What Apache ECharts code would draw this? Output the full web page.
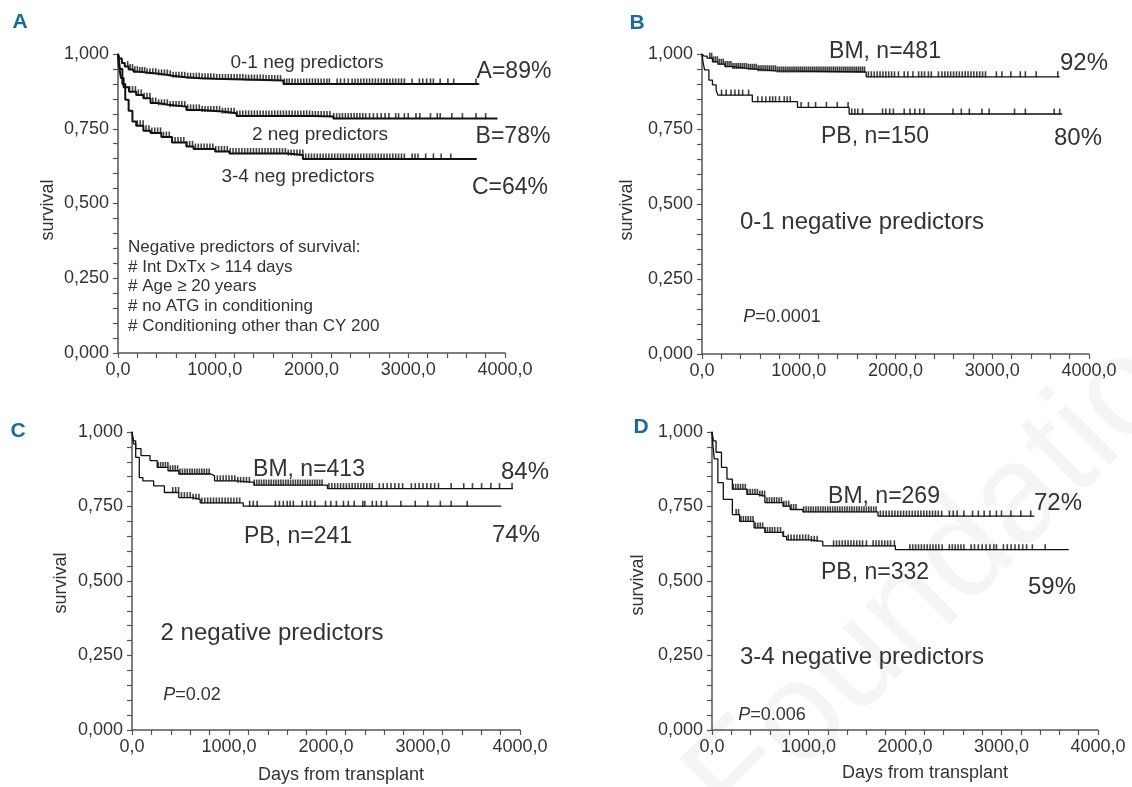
<!DOCTYPE html>
<html><head><meta charset="utf-8">
<script src="https://cdn.jsdelivr.net/npm/echarts@6/dist/echarts.min.js"></script>
<style>html,body{margin:0;padding:0;background:#fff}#c{width:1132px;height:787px}</style>
</head><body><div id="c"></div>
<script>
// ---- tick labels ----
const xTickValues = [0, 1000, 2000, 3000, 4000];
const xTickLabels = ['0,0', '1000,0', '2000,0', '3000,0', '4000,0'];
const yTickValues = [0, 0.25, 0.5, 0.75, 1];
const yTickLabels = ['0,000', '0,250', '0,500', '0,750', '1,000'];

// ---- Panel A: all patients by number of negative predictors ----
const A1_days = [0, 15, 40, 70, 110, 160, 220, 300, 420, 520, 560, 700, 850, 1000, 1300, 1520, 1710, 3726];
const A1_surv = [1, 0.985, 0.97, 0.958, 0.948, 0.941, 0.938, 0.934, 0.93, 0.927, 0.922, 0.919, 0.917, 0.915, 0.913, 0.911, 0.9, 0.897];
const A1_cens = [100, 125, 150, 175, 200, 225, 250, 275, 300, 330, 360, 390, 420, 450, 480, 510, 540, 570, 600, 630, 660, 690, 720, 750, 780, 810, 840, 870, 900, 930, 960, 990, 1020, 1050, 1080, 1110, 1140, 1170, 1200, 1230, 1260, 1290, 1320, 1350, 1380, 1410, 1440, 1470, 1500, 1530, 1560, 1590, 1620, 1650, 1680, 1720, 1745, 1770, 1800, 1830, 1860, 1890, 1920, 1950, 1980, 2010, 2040, 2070, 2100, 2130, 2160, 2185, 2265, 2300, 2340, 2380, 2420, 2450, 2480, 2510, 2540, 2570, 2600, 2630, 2660, 2690, 2720, 2750, 2780, 2810, 2840, 2870, 2900, 2930, 2960, 3040, 3115, 3150, 3190, 3230, 3260, 3330, 3410, 3470, 3700];
const A2_days = [0, 10, 30, 58, 114, 188, 262, 336, 410, 521, 707, 855, 1077, 1226, 2003, 2226, 3922];
const A2_surv = [1, 0.96, 0.92, 0.889, 0.874, 0.863, 0.852, 0.836, 0.83, 0.824, 0.813, 0.808, 0.802, 0.793, 0.791, 0.784, 0.784];
const A2_cens = [120, 150, 180, 210, 240, 270, 300, 330, 360, 390, 420, 450, 480, 510, 540, 570, 600, 630, 660, 690, 720, 750, 780, 810, 840, 870, 900, 930, 960, 990, 1020, 1050, 1080, 1110, 1140, 1170, 1200, 1230, 1260, 1290, 1320, 1350, 1380, 1410, 1440, 1470, 1500, 1530, 1560, 1590, 1620, 1650, 1680, 1710, 1740, 1770, 1800, 1830, 1860, 1890, 1920, 1950, 1980, 2010, 2040, 2070, 2100, 2130, 2160, 2190, 2230, 2260, 2290, 2320, 2350, 2380, 2410, 2440, 2470, 2500, 2530, 2560, 2600, 2640, 2680, 2720, 2760, 2800, 2870, 2900, 2960, 3000, 3080, 3120, 3230, 3300, 3330, 3450, 3560, 3700, 3800];
const A3_days = [0, 20, 45, 75, 110, 149, 188, 262, 336, 448, 559, 707, 781, 1004, 1152, 1745, 1911, 3708];
const A3_surv = [1, 0.95, 0.9, 0.847, 0.81, 0.774, 0.76, 0.743, 0.736, 0.722, 0.704, 0.691, 0.682, 0.674, 0.667, 0.662, 0.649, 0.649];
const A3_cens = [200, 230, 260, 290, 320, 350, 380, 410, 440, 470, 500, 530, 560, 590, 620, 650, 680, 710, 740, 770, 800, 830, 860, 890, 920, 950, 980, 1010, 1040, 1070, 1100, 1130, 1160, 1190, 1220, 1250, 1280, 1310, 1340, 1370, 1400, 1430, 1460, 1490, 1520, 1550, 1580, 1610, 1640, 1670, 1700, 1730, 1760, 1790, 1820, 1850, 1880, 1910, 1940, 1970, 2000, 2030, 2060, 2090, 2120, 2150, 2180, 2210, 2240, 2270, 2300, 2330, 2360, 2390, 2420, 2450, 2480, 2510, 2540, 2570, 2600, 2630, 2660, 2690, 2720, 2750, 2780, 2810, 2840, 2870, 2900, 2930, 2960, 3040, 3070, 3100, 3180, 3260, 3340, 3440];

// ---- Panel B: 0-1 negative predictors ----
const B_BM_days = [0, 20, 52, 108, 164, 239, 314, 463, 576, 763, 1697, 3697];
const B_BM_surv = [1, 0.993, 0.986, 0.974, 0.966, 0.958, 0.952, 0.949, 0.944, 0.94, 0.924, 0.924];
const B_BM_cens = [80, 100, 120, 140, 160, 180, 200, 220, 240, 260, 280, 300, 320, 340, 360, 380, 400, 420, 440, 460, 480, 500, 520, 540, 560, 580, 600, 620, 640, 660, 680, 700, 720, 740, 760, 780, 800, 820, 840, 860, 880, 900, 920, 940, 960, 980, 1000, 1020, 1040, 1060, 1080, 1100, 1120, 1140, 1160, 1180, 1200, 1220, 1240, 1260, 1280, 1300, 1320, 1340, 1360, 1380, 1400, 1420, 1440, 1460, 1480, 1500, 1520, 1540, 1560, 1580, 1600, 1620, 1640, 1660, 1680, 1720, 1750, 1780, 1810, 1840, 1870, 1900, 1930, 1960, 1990, 2030, 2090, 2127, 2180, 2239, 2270, 2300, 2340, 2370, 2444, 2480, 2510, 2540, 2570, 2600, 2630, 2660, 2690, 2720, 2750, 2780, 2810, 2840, 2870, 2900, 2930, 3043, 3100, 3192, 3290, 3342, 3454, 3678];
const B_PB_days = [0, 10, 26, 71, 108, 146, 164, 520, 987, 1521, 3723];
const B_PB_surv = [1, 0.975, 0.947, 0.913, 0.897, 0.88, 0.863, 0.841, 0.822, 0.8, 0.8];
const B_PB_cens = [202, 250, 300, 340, 380, 420, 482, 576, 620, 660, 700, 730, 760, 800, 850, 880, 912, 1024, 1100, 1174, 1286, 1398, 1510, 1548, 1580, 1610, 1660, 1866, 1900, 1940, 1978, 2090, 2150, 2200, 2250, 2295, 2594, 2680, 2763, 2893, 2968, 3230, 3342, 3640, 3697];

// ---- Panel C: 2 negative predictors ----
const C_BM_days = [0, 15, 38, 93, 186, 260, 371, 482, 814, 851, 1073, 1258, 2015, 3926];
const C_BM_surv = [1, 0.97, 0.944, 0.921, 0.904, 0.881, 0.87, 0.859, 0.853, 0.836, 0.831, 0.822, 0.81, 0.81];
const C_BM_cens = [270, 295, 320, 345, 370, 395, 420, 445, 470, 495, 520, 545, 570, 595, 620, 645, 670, 695, 720, 745, 770, 795, 880, 910, 940, 970, 1000, 1030, 1060, 1090, 1120, 1150, 1180, 1210, 1260, 1285, 1310, 1335, 1360, 1385, 1410, 1435, 1460, 1485, 1510, 1535, 1560, 1585, 1610, 1635, 1660, 1685, 1710, 1735, 1760, 1785, 1810, 1835, 1860, 1885, 1910, 1935, 1960, 2030, 2060, 2090, 2120, 2150, 2180, 2210, 2240, 2270, 2300, 2330, 2360, 2390, 2420, 2450, 2477, 2550, 2590, 2630, 2670, 2710, 2750, 2790, 2880, 2920, 2960, 3000, 3040, 3080, 3120, 3160, 3290, 3420, 3510, 3604, 3700, 3789, 3918];
const C_PB_days = [0, 15, 38, 75, 112, 223, 334, 482, 629, 703, 1147, 3807];
const C_PB_surv = [1, 0.96, 0.915, 0.847, 0.836, 0.819, 0.797, 0.78, 0.774, 0.762, 0.751, 0.751];
const C_PB_cens = [420, 450, 480, 510, 540, 570, 600, 630, 660, 690, 720, 750, 780, 810, 840, 870, 900, 930, 960, 990, 1020, 1050, 1080, 1110, 1213, 1250, 1290, 1478, 1520, 1560, 1600, 1630, 1663, 1755, 1800, 1840, 1885, 1995, 2050, 2107, 2180, 2230, 2291, 2380, 2400, 2477, 2520, 2570, 2625, 2772, 2920, 3049, 3179, 3290, 3456];

// ---- Panel D: 3-4 negative predictors ----
const D_BM_days = [0, 15, 42, 98, 155, 211, 361, 473, 548, 736, 810, 942, 1720, 3341];
const D_BM_surv = [1, 0.97, 0.932, 0.881, 0.842, 0.808, 0.791, 0.785, 0.763, 0.751, 0.74, 0.732, 0.718, 0.718];
const D_BM_cens = [220, 245, 270, 295, 320, 345, 370, 395, 420, 445, 470, 495, 520, 545, 570, 595, 620, 645, 670, 695, 720, 745, 770, 795, 820, 845, 870, 950, 975, 1000, 1025, 1050, 1075, 1100, 1125, 1150, 1175, 1200, 1225, 1250, 1275, 1300, 1325, 1350, 1375, 1400, 1425, 1450, 1475, 1500, 1525, 1550, 1575, 1600, 1625, 1650, 1675, 1700, 1745, 1775, 1805, 1835, 1865, 1895, 1925, 1955, 1985, 2015, 2045, 2075, 2105, 2135, 2165, 2195, 2225, 2255, 2285, 2315, 2345, 2380, 2460, 2500, 2540, 2610, 2700, 2760, 2820, 2880, 2947, 3000, 3097, 3200, 3303];
const D_PB_days = [0, 8, 24, 61, 117, 211, 286, 436, 548, 736, 773, 1017, 1148, 1900, 3697];
const D_PB_surv = [1, 0.96, 0.91, 0.83, 0.774, 0.723, 0.7, 0.678, 0.663, 0.65, 0.638, 0.633, 0.618, 0.605, 0.605];
const D_PB_cens = [250, 275, 300, 325, 350, 375, 400, 425, 450, 475, 500, 525, 550, 575, 600, 625, 650, 680, 710, 740, 790, 820, 850, 880, 910, 940, 970, 1000, 1030, 1060, 1090, 1260, 1290, 1320, 1350, 1380, 1410, 1440, 1470, 1500, 1530, 1560, 1600, 1670, 1700, 1730, 1760, 1790, 1820, 1850, 1890, 2050, 2080, 2110, 2140, 2170, 2200, 2230, 2260, 2290, 2320, 2350, 2385, 2460, 2490, 2520, 2550, 2580, 2610, 2685, 2720, 2760, 2800, 2840, 2880, 2920, 2947, 3020, 3060, 3100, 3140, 3180, 3220, 3260, 3320, 3453];

// ---- rendering ----
const FONT = "'Liberation Sans', Arial, sans-serif";
const TXT = '#333333';
const LINE = '#111111';
const AXIS = '#555555';
const LETTER = '#1b6a98';

const grids = [
  { left: 118, top: 54, width: 387, height: 299 },
  { left: 702, top: 54, width: 387, height: 300 },
  { left: 132, top: 432, width: 388, height: 298 },
  { left: 712, top: 432, width: 386, height: 298 }
];
const yMargins = [9, 9, 9, 9];

function near(a, b) { return Math.abs(a - b) < 1e-6; }
function xFmt(v) { const i = xTickValues.findIndex(t => near(t, v)); return i >= 0 ? xTickLabels[i] : ''; }
function yFmt(v) { const i = yTickValues.findIndex(t => near(t, v)); return i >= 0 ? yTickLabels[i] : ''; }

const axisLineStyle = { color: AXIS, width: 1.5 };
const axisTick = { length: 5, lineStyle: { color: AXIS, width: 1.2 } };

const xAxes = grids.map((g, i) => ({
  type: 'value', gridIndex: i, min: 0, max: 4000, interval: 200,
  axisLine: { show: true, onZero: false, lineStyle: axisLineStyle },
  axisTick: axisTick, splitLine: { show: false },
  axisLabel: { formatter: xFmt, fontSize: 18, color: TXT, fontFamily: FONT, margin: 8, showMinLabel: true, showMaxLabel: true }
}));
const yAxes = grids.map((g, i) => ({
  type: 'value', gridIndex: i, min: 0, max: 1, interval: 0.05,
  axisLine: { show: true, onZero: false, lineStyle: axisLineStyle },
  axisTick: axisTick, splitLine: { show: false },
  axisLabel: { formatter: yFmt, fontSize: 18, color: TXT, fontFamily: FONT, margin: yMargins[i], showMinLabel: true, showMaxLabel: true }
}));

function survAt(days, surv, t) {
  let s = surv[0];
  for (let i = 0; i < days.length; i++) { if (days[i] <= t) s = surv[i]; else break; }
  return s;
}
function curve(gi, days, surv, w) {
  return {
    type: 'line', xAxisIndex: gi, yAxisIndex: gi, step: 'end', symbol: 'none', silent: true,
    data: days.map((d, i) => [d, surv[i]]),
    lineStyle: { color: LINE, width: w }
  };
}
function censor(gi, cens, days, surv) {
  return {
    type: 'scatter', xAxisIndex: gi, yAxisIndex: gi, symbol: 'rect', symbolSize: [1.6, 6],
    symbolOffset: [0, -2.5], silent: true,
    itemStyle: { color: LINE },
    data: cens.map(c => [c, survAt(days, surv, c)])
  };
}

const series = [
  curve(0, A1_days, A1_surv, 2), censor(0, A1_cens, A1_days, A1_surv),
  curve(0, A2_days, A2_surv, 2), censor(0, A2_cens, A2_days, A2_surv),
  curve(0, A3_days, A3_surv, 2), censor(0, A3_cens, A3_days, A3_surv),
  curve(1, B_BM_days, B_BM_surv, 1.3), censor(1, B_BM_cens, B_BM_days, B_BM_surv),
  curve(1, B_PB_days, B_PB_surv, 1.3), censor(1, B_PB_cens, B_PB_days, B_PB_surv),
  curve(2, C_BM_days, C_BM_surv, 1.3), censor(2, C_BM_cens, C_BM_days, C_BM_surv),
  curve(2, C_PB_days, C_PB_surv, 1.3), censor(2, C_PB_cens, C_PB_days, C_PB_surv),
  curve(3, D_BM_days, D_BM_surv, 1.3), censor(3, D_BM_cens, D_BM_days, D_BM_surv),
  curve(3, D_PB_days, D_PB_surv, 1.3), censor(3, D_PB_cens, D_PB_days, D_PB_surv)
];

function T(text, x, y, size, opts) {
  opts = opts || {};
  return {
    type: 'text', x: x, y: y, rotation: opts.rotation || 0, silent: true, z: opts.z || 10,
    style: {
      text: text, fill: opts.fill || TXT, fontSize: size, fontFamily: FONT,
      fontWeight: opts.weight || 'normal',
      align: opts.align || 'center', verticalAlign: 'middle'
    }
  };
}
function PT(val, x, y, size) {
  return {
    type: 'text', x: x, y: y, silent: true, z: 10,
    style: {
      text: '{i|P}{n|' + val + '}', fill: TXT, fontSize: size, fontFamily: FONT,
      align: 'center', verticalAlign: 'middle',
      rich: {
        i: { fontStyle: 'italic', fontSize: size, fontFamily: FONT, fill: TXT },
        n: { fontSize: size, fontFamily: FONT, fill: TXT }
      }
    }
  };
}
const rot = Math.PI / 2;
const graphic = [
  // faint watermark
  { type: 'text', x: 960, y: 560, rotation: Math.PI / 4, silent: true, z: -10,
    style: { text: 'Foundation', fill: 'rgba(0,0,0,0.04)', fontSize: 140, fontFamily: FONT, align: 'center', verticalAlign: 'middle' } },
  // panel letters
  T('A', 20, 22, 21, { fill: LETTER, weight: 'bold' }),
  T('B', 637, 23, 21, { fill: LETTER, weight: 'bold' }),
  T('C', 18, 431, 21, { fill: LETTER, weight: 'bold' }),
  T('D', 641, 427, 21, { fill: LETTER, weight: 'bold' }),
  // axis titles
  T('survival', 48, 210, 18, { rotation: rot }),
  T('survival', 627, 210, 18, { rotation: rot }),
  T('survival', 61, 583, 18, { rotation: rot }),
  T('survival', 638, 585, 18, { rotation: rot }),
  T('Days from transplant', 341, 775, 18),
  T('Days from transplant', 925, 773, 18),
  // panel A
  T('0-1 neg predictors', 307, 63, 19),
  T('2 neg predictors', 320, 135, 19),
  T('3-4 neg predictors', 298, 177, 19),
  T('A=89%', 514, 72, 23),
  T('B=78%', 513, 137, 23),
  T('C=64%', 510, 188, 23),
  T('Negative predictors of survival:', 128, 247, 17, { align: 'left' }),
  T('# Int DxTx > 114 days', 128, 267, 17, { align: 'left' }),
  T('# Age \u2265 20 years', 128, 286, 17, { align: 'left' }),
  T('# no ATG in conditioning', 128, 306, 17, { align: 'left' }),
  T('# Conditioning other than CY 200', 128, 326, 17, { align: 'left' }),
  // panel B
  T('BM, n=481', 885, 52, 23),
  T('92%', 1084, 63, 24),
  T('PB, n=150', 875, 137, 23),
  T('80%', 1078, 138, 24),
  T('0-1 negative predictors', 862, 222, 24),
  PT('=0.0001', 782, 317, 18),
  // panel C
  T('BM, n=413', 309, 470, 23),
  T('84%', 525, 472, 24),
  T('PB, n=241', 298, 537, 23),
  T('74%', 516, 535, 24),
  T('2 negative predictors', 272, 633, 24),
  PT('=0.02', 192, 695, 18),
  // panel D
  T('BM, n=269', 884, 497, 23),
  T('72%', 1058, 503, 24),
  T('PB, n=332', 875, 573, 23),
  T('59%', 1052, 587, 24),
  T('3-4 negative predictors', 862, 657, 24),
  PT('=0.006', 772, 715, 18)
];

const chart = echarts.init(document.getElementById('c'), null, { renderer: 'canvas' });
chart.setOption({
  animation: false,
  backgroundColor: '#ffffff',
  grid: grids,
  xAxis: xAxes,
  yAxis: yAxes,
  series: series,
  graphic: graphic
});
</script>
</body></html>
